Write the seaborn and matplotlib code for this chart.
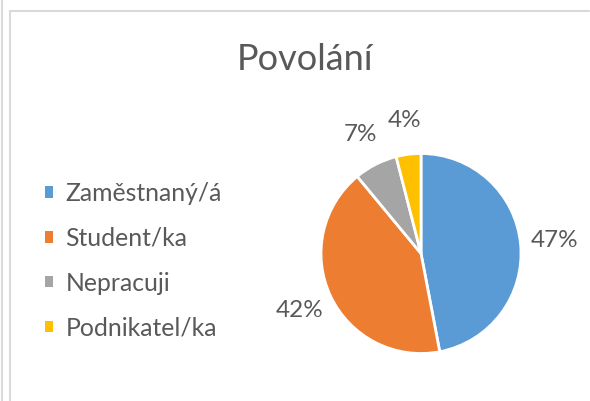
import matplotlib
matplotlib.use("Agg")
import matplotlib.pyplot as plt
import matplotlib.patches as mpatches
import seaborn as sns
from matplotlib.lines import Line2D

# data
categories = ["Zaměstnaný/á", "Student/ka", "Nepracuji", "Podnikatel/ka"]
shares = [47, 42, 7, 4]
colors = ["#5B9BD5", "#ED7D31", "#A5A5A5", "#FFC000"]
title = "Povolání"

sns.set_theme(style="white")
plt.rcParams["font.family"] = ["Lato", "DejaVu Sans"]
text_color = "#595959"

W, H = 590, 401
fig = plt.figure(figsize=(W / 100, H / 100), dpi=100)
fig.patch.set_facecolor("white")

# pie axes: centre ~ (421, 253), radius ~100 px
cx, cy, r = 421, 253.5, 100
ax = fig.add_axes([(cx - r) / W, (H - cy - r) / H, 2 * r / W, 2 * r / H])
wedges, texts, autotexts = ax.pie(
    shares, colors=colors, startangle=90, counterclock=False,
    autopct="%1.0f%%", pctdistance=1.34,
    wedgeprops=dict(edgecolor="white", linewidth=2),
    textprops=dict(color=text_color, fontsize=17.5),
)
ax.set_xlim(-1, 1)
ax.set_ylim(-1, 1)
ax.set_aspect("equal")

fig.text(305 / W, 1 - 60 / H, title, ha="center", va="center",
         fontsize=26, color=text_color)

# square legend keys without the white wedge edge
handles = [mpatches.Patch(facecolor=c, edgecolor="none") for c in colors]
leg = fig.legend(handles, categories, loc="upper left",
                 bbox_to_anchor=(45 / W, 1 - 182 / H), borderpad=0,
                 borderaxespad=0,
                 frameon=False, fontsize=17.8, handlelength=0.33, handleheight=0.33,
                 handletextpad=0.5, labelspacing=0.88)
for t in leg.get_texts():
    t.set_color(text_color)

# chart frame lines like the screenshot
frame = "#D9D9D9"
fig.add_artist(Line2D([2 / W, 2 / W], [0, 1], color=frame, lw=1.5))
fig.add_artist(Line2D([10 / W, 10 / W], [0, 1 - 11 / H], color=frame, lw=1.5))
fig.add_artist(Line2D([10 / W, 589 / W], [1 - 11 / H, 1 - 11 / H], color=frame, lw=1.5))

fig.savefig("out.png", dpi=100)
